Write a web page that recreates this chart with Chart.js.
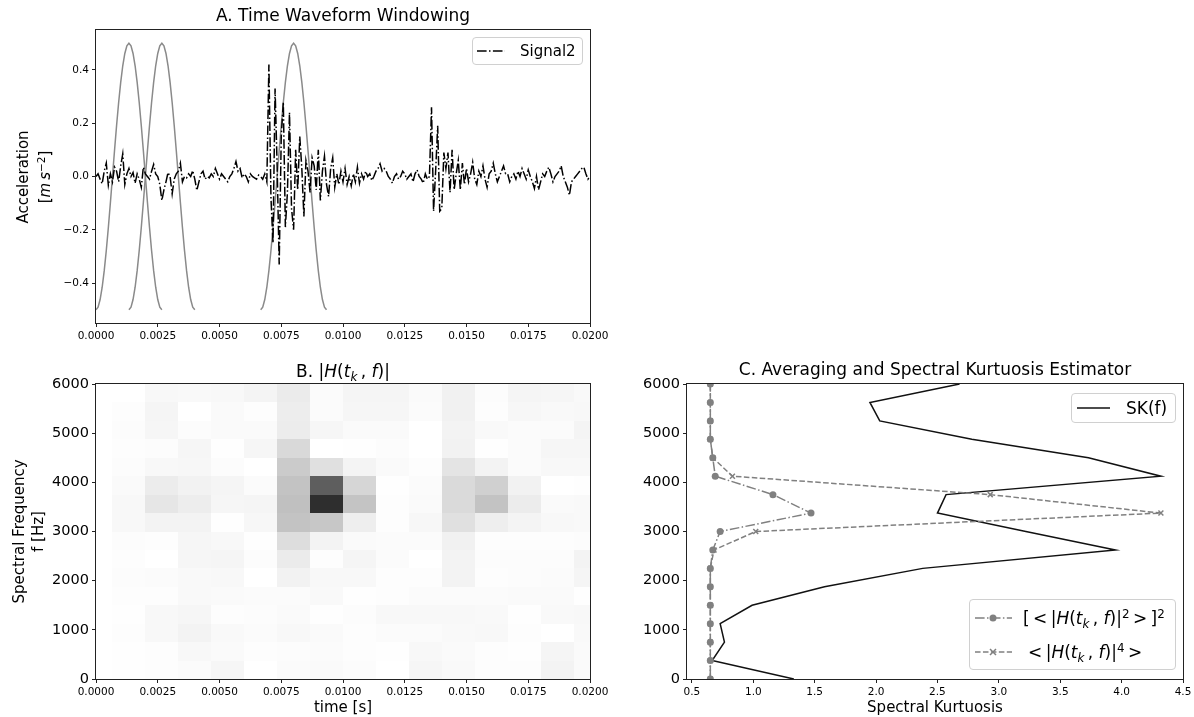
<!DOCTYPE html>
<html>
<head>
<meta charset="utf-8">
<script src="https://cdn.jsdelivr.net/npm/chart.js@4.4.1/dist/chart.umd.min.js"></script>
<style>
  html,body{margin:0;padding:0;background:#fff;}
  #wrap{position:relative;width:1194px;height:717px;overflow:hidden;background:#fff;font-family:'DejaVu Sans',sans-serif;color:#000;}
  canvas{position:absolute;left:0;top:0;}
  .ov{position:absolute;white-space:nowrap;font-family:'DejaVu Sans',sans-serif;color:#000;}
  .lg{position:absolute;border:1px solid #d0d0d0;border-radius:4px;background:rgba(255,255,255,0.8);box-sizing:border-box;}
  sub,sup{font-size:70%;line-height:0;position:relative;vertical-align:baseline;}
  sup{top:-0.5em;} sub{top:0.3em;}
  svg{position:absolute;overflow:visible;}
</style>
</head>
<body>
<div id="wrap">
  <canvas id="cA" width="1194" height="717"></canvas>
  <canvas id="cB" width="1194" height="717"></canvas>
  <canvas id="cC" width="1194" height="717"></canvas>

  <!-- Panel A y label -->
  <div class="ov" style="left:-66px;top:155px;width:200px;height:44px;transform:rotate(-90deg);text-align:center;font-size:15px;line-height:22px;">Acceleration<br>[<i>m</i>&thinsp;<i>s</i><sup>−2</sup>]</div>

  <!-- Panel A legend -->
  <div class="lg" style="left:472px;top:37px;width:111px;height:28px;"></div>
  <svg style="left:477px;top:41px;" width="30" height="20"><line x1="0" y1="10" x2="28" y2="10" stroke="#000" stroke-width="1.5" stroke-dasharray="9.6,2.4,1.5,2.4"/></svg>
  <div class="ov" style="left:520px;top:42px;font-size:15px;line-height:18px;">Signal2</div>

  <!-- Panel B title -->
  <div class="ov" style="left:243px;top:361px;width:200px;text-align:center;font-size:17px;line-height:20px;">B. |<i>H</i>(<i>t</i><sub><i>k</i></sub>&thinsp;, <i>f</i>)|</div>

  <!-- Panel C legends -->
  <div class="lg" style="left:1071px;top:393px;width:105px;height:30px;"></div>
  <svg style="left:1077px;top:398px;" width="34" height="20"><line x1="0" y1="10" x2="33" y2="10" stroke="#111" stroke-width="1.5"/></svg>
  <div class="ov" style="left:1126px;top:398px;font-size:17px;line-height:20px;">SK(f)</div>

  <div class="lg" style="left:969px;top:599px;width:207px;height:71px;"></div>
  <svg style="left:975px;top:608px;" width="38" height="20"><line x1="0" y1="10" x2="37" y2="10" stroke="#808080" stroke-width="1.5" stroke-dasharray="9.6,2.4,1.5,2.4"/><circle cx="18" cy="10" r="3.5" fill="#808080"/></svg>
  <div class="ov" style="left:1023px;top:607px;font-size:17px;line-height:22px;">[&thinsp;&lt;&thinsp;|<i>H</i>(<i>t</i><sub><i>k</i></sub>&thinsp;, <i>f</i>)|<sup>2</sup>&thinsp;&gt;&thinsp;]<sup>2</sup></div>
  <svg style="left:975px;top:642px;" width="38" height="20"><line x1="0" y1="10" x2="37" y2="10" stroke="#808080" stroke-width="1.5" stroke-dasharray="5.55,2.4"/><path d="M15,7 L21,13 M21,7 L15,13" stroke="#808080" stroke-width="1.5"/></svg>
  <div class="ov" style="left:1028px;top:641px;font-size:17px;line-height:22px;">&lt;&thinsp;|<i>H</i>(<i>t</i><sub><i>k</i></sub>&thinsp;, <i>f</i>)|<sup>4</sup>&thinsp;&gt;</div>
</div>

<script>
// ---------------- DATA ----------------
// Panel A: sampled signal (fs = 12 kHz, 0 .. 0.02 s)
const sampleRate = 12000;
const signal2 = [
  0.00, 0.01, -0.01, -0.027, 0.02, 0.05, -0.033, 0.01, -0.02, 0.035,
  0.02, -0.02, 0.04, 0.085, -0.03, 0.01, 0.03, 0.0, 0.015, -0.025,
  0.01, -0.01, -0.04, 0.035, 0.01, 0.0, -0.01, 0.02, 0.045, 0.01,
  0.0, -0.03, -0.09, -0.05, -0.02, 0.015, 0.0, -0.065, -0.01, 0.01,
  0.02, 0.05, -0.02, 0.0, -0.005, 0.01, 0.0, 0.022, -0.01, -0.052,
  -0.02, 0.01, 0.02, -0.01, 0.0, -0.005, 0.01, 0.0, 0.03, 0.01,
  -0.01, 0.01, 0.0, -0.01, -0.02, 0.0, 0.01, 0.03, 0.056, 0.02,
  0.03, -0.005, 0.01, 0.0, -0.02, 0.01, 0.0, -0.005, -0.01, 0.005,
  0.0, -0.01, 0.01, -0.02, 0.42, -0.08, -0.25, 0.33, 0.04, -0.33,
  0.15, 0.28, -0.19, -0.06, 0.24, -0.12, -0.20, 0.10, -0.05, 0.15,
  0.03, -0.15, 0.06, 0.02, -0.06, 0.07, 0.04, -0.05, 0.10, -0.09,
  0.02, 0.076, -0.03, -0.075, 0.03, 0.07, -0.04, 0.01, -0.03, 0.02,
  -0.02, 0.03, -0.03, 0.0, -0.035, 0.01, -0.02, 0.035, -0.025, 0.01,
  -0.01, 0.02, 0.0, 0.01, -0.015, 0.0, 0.02, 0.03, 0.048, 0.02,
  0.03, 0.02, 0.0, -0.01, -0.025, 0.0, 0.01, -0.01, 0.0, 0.02,
  0.01, -0.01, 0.0, 0.01, -0.02, 0.01, 0.025, 0.0, -0.01, -0.025,
  0.01, -0.01, 0.0, 0.26, -0.13, 0.02, 0.19, -0.13, -0.12, 0.09,
  0.03, 0.09, -0.06, 0.10, -0.05, 0.01, 0.06, -0.05, 0.05, -0.03,
  0.03, -0.02, 0.01, 0.053, -0.01, -0.03, 0.02, 0.0, 0.04, -0.01,
  -0.04, 0.01, 0.02, 0.05, 0.01, -0.02, 0.0, 0.02, 0.04, 0.01,
  0.01, -0.02, 0.0, 0.01, -0.01, 0.02, 0.0, 0.03, 0.01, -0.01,
  0.025, 0.0, -0.02, -0.045, 0.0, -0.05, -0.02, 0.01, 0.0, 0.02,
  0.035, 0.01, -0.02, 0.0, 0.01, 0.02, 0.04, 0.0, -0.02, -0.04,
  -0.07, -0.02, -0.01, 0.0, 0.01, 0.02, 0.03, 0.035, 0.01, -0.01, 0.0
];
// Hann window shape (33 samples), shifted to -0.5 .. 0.5
const windowShape = [
  -0.5, -0.4904, -0.4619, -0.4157, -0.3536, -0.2778, -0.1913, -0.0975, 0.0,
  0.0975, 0.1913, 0.2778, 0.3536, 0.4157, 0.4619, 0.4904, 0.5,
  0.4904, 0.4619, 0.4157, 0.3536, 0.2778, 0.1913, 0.0975, 0.0,
  -0.0975, -0.1913, -0.2778, -0.3536, -0.4157, -0.4619, -0.4904, -0.5
];
const windowStartSamples = [0, 16, 80];
const timeTicks = [0, 0.0025, 0.005, 0.0075, 0.01, 0.0125, 0.015, 0.0175, 0.02];
const accelTicks = [-0.4, -0.2, 0.0, 0.2, 0.4];

// Panel B: |H(t_k, f)| (rows: frequency bins from 0 Hz upward; columns: time frames)
const frameTimes = [0, 0.001333, 0.002667, 0.004, 0.005333, 0.006667, 0.008, 0.009333,
                    0.010667, 0.012, 0.013333, 0.014667, 0.016, 0.017333, 0.018667, 0.02];
const freqEdges = [0, 375, 750, 1125, 1500, 1875, 2250, 2625, 3000, 3375, 3750, 4125, 4500, 4875, 5250, 5625, 6000];
const hMagnitude = [
  [0, .008, .017, .033, .075, 0, .033, .042, .025, 0, .075, .05, .017, .017, .1, .042],
  [0, .008, .017, .058, .042, .017, .025, .033, .017, .008, .058, .042, .017, .008, .083, .042],
  [0, .017, .058, .1, .05, .033, .058, .042, .017, .033, .033, .05, .058, .017, 0, .05],
  [0, .008, .058, .075, .017, .025, .042, .008, .025, .058, .058, .058, .05, .008, .05, .058],
  [0, .017, .017, .05, .042, .033, .033, .05, .008, .017, .033, .033, .033, .042, .042, .008],
  [0, .025, .033, .05, .058, 0, .108, .058, .058, .017, .017, .1, .017, .025, .033, .083],
  [0, .017, 0, .075, .083, .025, .152, .017, .083, .033, 0, .1, .025, .025, .025, .1],
  [0, .025, .017, .075, .058, .008, .228, .1, .042, .033, .033, .117, .017, .017, .017, .025],
  [0, .058, .1, .1, .008, .067, .348, .33, .136, .017, .067, .212, .136, .092, .058, .05],
  [0, .058, .179, .141, .075, .083, .362, .85, .344, .017, .042, .245, .348, .147, .042, .05],
  [0, .042, .147, .108, .083, .033, .348, .705, .263, .008, .033, .245, .29, .108, 0, .008],
  [0, .025, .058, .067, .025, 0, .313, .212, .092, .042, .017, .19, .1, .033, .058, .058],
  [0, .017, .025, .075, .008, .075, .25, 0, .008, .025, 0, .108, .008, .033, .075, .075],
  [0, .025, .075, .025, .042, .042, .147, .075, .042, .042, 0, .1, .05, .033, .033, .092],
  [0, .017, .083, 0, .042, .017, .141, .033, .075, .075, .033, .117, .017, .067, .05, .058],
  [0, 0, .058, .05, .058, .092, .152, .033, .083, .083, .042, .117, .025, .083, .075, .05]
];
const freqTicks = [0, 1000, 2000, 3000, 4000, 5000, 6000];

// Panel C: averaging & spectral kurtosis
const skFreqs = [0, 375, 750, 1125, 1500, 1875, 2250, 2625, 3000, 3375, 3750, 4125, 4500, 4875, 5250, 5625, 6000];
const skValues = [1.33, 0.665, 0.765, 0.73, 0.99, 1.58, 2.38, 3.95, 3.22, 2.50, 2.57, 4.32, 3.73, 2.78, 2.03, 1.95, 2.68];
const meanSquaredSq = [0.65, 0.65, 0.65, 0.65, 0.65, 0.65, 0.65, 0.67, 0.73, 1.47, 1.16, 0.69, 0.67, 0.65, 0.65, 0.65, 0.65];
const meanFourth = [0.65, 0.65, 0.65, 0.65, 0.65, 0.65, 0.65, 0.68, 1.02, 4.32, 2.93, 0.83, 0.67, 0.65, 0.65, 0.65, 0.65];
const kurtTicks = [0.5, 1.0, 1.5, 2.0, 2.5, 3.0, 3.5, 4.0, 4.5];

// ---------------- HELPERS ----------------
Chart.defaults.font.family = "'DejaVu Sans', sans-serif";
Chart.defaults.color = '#000';
const AXC = '#222';
const greysStops = [255, 240, 217, 189, 150, 115, 82, 37, 0];
function greys(v) {
  v = Math.max(0, Math.min(1, v));
  const p = v * 8, i = Math.min(7, Math.floor(p)), f = p - i;
  const g = Math.round(greysStops[i] + (greysStops[i + 1] - greysStops[i]) * f);
  return `rgb(${g},${g},${g})`;
}
const minus = s => s.replace('-', '\u2212');
const framePlugin = {
  id: 'frame',
  afterDatasetsDraw(chart) {
    const {ctx, chartArea: a} = chart;
    ctx.save();
    ctx.strokeStyle = AXC; ctx.lineWidth = 1;
    ctx.strokeRect(Math.round(a.left) - 0.5, Math.round(a.top) - 0.5, Math.round(a.right - a.left) + 1, Math.round(a.bottom - a.top) + 1);
    ctx.restore();
  }
};
const heatmapPlugin = {
  id: 'heatmap',
  beforeDatasetsDraw(chart) {
    const {ctx, chartArea: a, scales: {x, y}} = chart;
    const half = (frameTimes[1] - frameTimes[0]) / 2;
    ctx.save();
    ctx.beginPath(); ctx.rect(a.left, a.top, a.right - a.left, a.bottom - a.top); ctx.clip();
    for (let r = 0; r < hMagnitude.length; r++) {
      const yb = Math.round(y.getPixelForValue(freqEdges[r]));
      const yt = Math.round(y.getPixelForValue(freqEdges[r + 1]));
      for (let c = 0; c < frameTimes.length; c++) {
        const xl = Math.round(x.getPixelForValue(frameTimes[c] - half));
        const xr = Math.round(x.getPixelForValue(frameTimes[c] + half));
        ctx.fillStyle = greys(hMagnitude[r][c]);
        ctx.fillRect(xl, yt, xr - xl, yb - yt);
      }
    }
    ctx.restore();
  }
};
function tickSet(arr) { return s => { s.ticks = arr.map(v => ({value: v})); }; }
function fitX(h) { return s => { s.height = h; s.paddingLeft = 0; s.paddingRight = 0; }; }
function fitY(w) { return s => { s.width = w; s.paddingTop = 0; s.paddingBottom = 0; }; }
const tickGrid = {display: true, drawOnChartArea: false, drawTicks: true, tickLength: 4, color: AXC, lineWidth: 1};
const baseOpts = {
  responsive: false, animation: false, devicePixelRatio: 1, events: [],
  plugins: {legend: {display: false}, tooltip: {enabled: false}}
};

// ---------------- PANEL A ----------------
const signalPts = signal2.map((v, i) => ({x: i / sampleRate, y: v}));
const windowSets = windowStartSamples.map(s => ({
  label: 'window',
  data: windowShape.map((v, n) => ({x: (s + n) / sampleRate, y: v})),
  showLine: true, borderColor: '#8a8a8a', borderWidth: 1.5, pointRadius: 0, clip: 0
}));
new Chart(document.getElementById('cA'), {
  type: 'scatter',
  data: {datasets: [
    {label: 'Signal2', data: signalPts, showLine: true, borderColor: '#000', borderWidth: 1.5,
     borderDash: [9.6, 2.4, 1.5, 2.4], pointRadius: 0, clip: 0},
    ...windowSets
  ]},
  options: Object.assign({}, baseOpts, {
    layout: {padding: {left: 0, right: 604, top: 0, bottom: 374}},
    plugins: {legend: {display: false}, tooltip: {enabled: false},
      title: {display: true, text: 'A. Time Waveform Windowing', fullSize: false, color: '#000',
              font: {size: 17, weight: 'normal'}, padding: {top: 6, bottom: 3.6}}},
    scales: {
      x: {type: 'linear', min: 0, max: 0.02, afterBuildTicks: tickSet(timeTicks), afterFit: fitX(20),
          ticks: {font: {size: 10.5}, padding: 3, maxRotation: 0, autoSkip: false, callback: v => v.toFixed(4)},
          grid: tickGrid, border: {display: false}},
      y: {type: 'linear', min: -0.55, max: 0.55, afterBuildTicks: tickSet(accelTicks), afterFit: fitY(96),
          ticks: {font: {size: 10.5}, padding: 3, autoSkip: false, callback: v => minus(v.toFixed(1))},
          grid: tickGrid, border: {display: false}}
    }
  }),
  plugins: [framePlugin]
});

// ---------------- PANEL B ----------------
new Chart(document.getElementById('cB'), {
  type: 'scatter',
  data: {datasets: [{label: '|H|', data: [], pointRadius: 0}]},
  options: Object.assign({}, baseOpts, {
    layout: {padding: {left: 0, right: 604, top: 384, bottom: 0}},
    scales: {
      x: {type: 'linear', min: 0, max: 0.02, afterBuildTicks: tickSet(timeTicks), afterFit: fitX(38),
          ticks: {font: {size: 10.5}, padding: 3, maxRotation: 0, autoSkip: false, callback: v => v.toFixed(4)},
          title: {display: true, text: 'time [s]', font: {size: 15}, padding: {top: 0, bottom: 0}},
          grid: tickGrid, border: {display: false}},
      y: {type: 'linear', min: 0, max: 6000, afterBuildTicks: tickSet(freqTicks), afterFit: fitY(96),
          ticks: {font: {size: 14.5}, padding: 3, autoSkip: false, callback: v => String(v)},
          title: {display: true, text: ['Spectral Frequency', 'f [Hz]'], font: {size: 15, lineHeight: 1.27}, padding: {top: 11, bottom: 0}},
          grid: tickGrid, border: {display: false}}
    }
  }),
  plugins: [heatmapPlugin, framePlugin]
});

// ---------------- PANEL C ----------------
const toPts = vals => vals.map((v, i) => ({x: v, y: skFreqs[i]}));
new Chart(document.getElementById('cC'), {
  type: 'scatter',
  data: {datasets: [
    {label: '[<|H(t_k,f)|^2>]^2', data: toPts(meanSquaredSq), showLine: true, borderColor: '#808080',
     backgroundColor: '#808080', borderWidth: 1.5, borderDash: [9.6, 2.4, 1.5, 2.4],
     pointStyle: 'circle', pointRadius: 3.5, pointBorderWidth: 0, pointBackgroundColor: '#808080', clip: 0},
    {label: '<|H(t_k,f)|^4>', data: toPts(meanFourth), showLine: true, borderColor: '#808080',
     backgroundColor: '#808080', borderWidth: 1.5, borderDash: [5.55, 2.4],
     pointStyle: 'crossRot', pointRadius: 3.5, pointBorderWidth: 1.5, pointBorderColor: '#808080', clip: 0},
    {label: 'SK(f)', data: toPts(skValues), showLine: true, borderColor: '#111', borderWidth: 1.5, pointRadius: 0, clip: 0}
  ]},
  options: Object.assign({}, baseOpts, {
    layout: {padding: {left: 627, right: 11, top: 354, bottom: 0}},
    plugins: {legend: {display: false}, tooltip: {enabled: false},
      title: {display: true, text: 'C. Averaging and Spectral Kurtuosis Estimator', fullSize: false, color: '#000',
              font: {size: 17, weight: 'normal'}, padding: {top: 6, bottom: 3.6}}},
    scales: {
      x: {type: 'linear', min: 0.46, max: 4.5, afterBuildTicks: tickSet(kurtTicks), afterFit: fitX(38),
          ticks: {font: {size: 10.5}, padding: 3, maxRotation: 0, autoSkip: false, callback: v => v.toFixed(1)},
          title: {display: true, text: 'Spectral Kurtuosis', font: {size: 15}, padding: {top: 0, bottom: 0}},
          grid: tickGrid, border: {display: false}},
      y: {type: 'linear', min: 0, max: 6000, afterBuildTicks: tickSet(freqTicks), afterFit: fitY(60),
          ticks: {font: {size: 14.5}, padding: 3, autoSkip: false, callback: v => String(v)},
          grid: tickGrid, border: {display: false}}
    }
  }),
  plugins: [framePlugin]
});
</script>
</body>
</html>
